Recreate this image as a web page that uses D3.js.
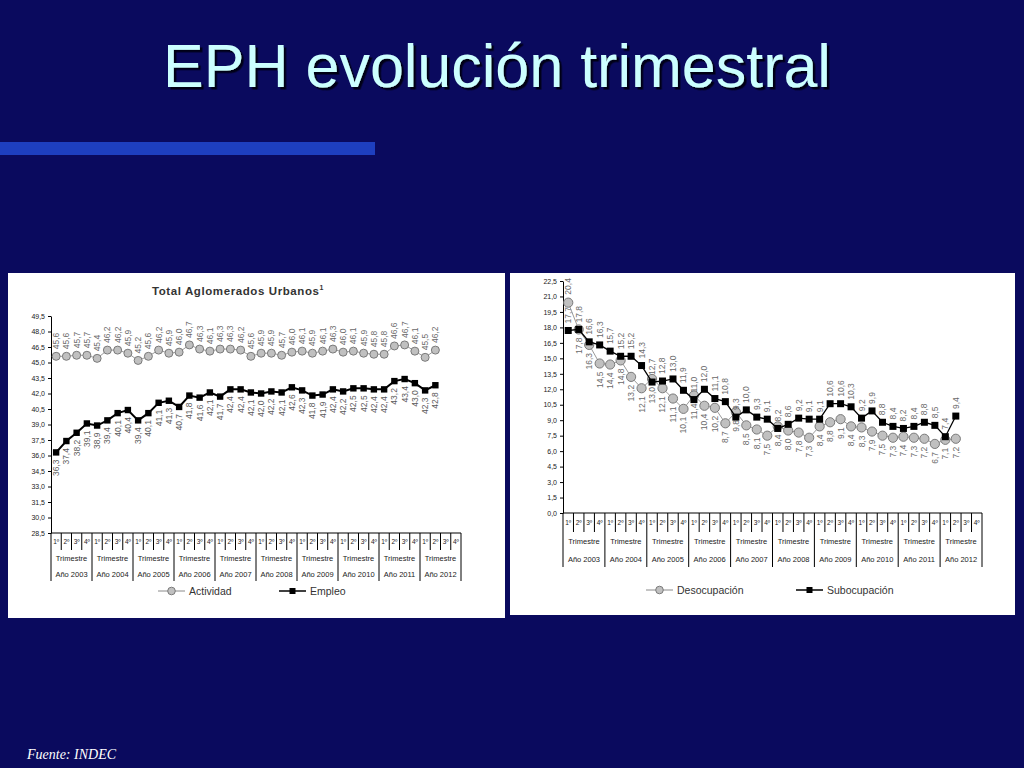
<!DOCTYPE html>
<html>
<head>
<meta charset="utf-8">
<script src="https://cdnjs.cloudflare.com/ajax/libs/d3/7.8.5/d3.min.js"></script>
<style>
    body { margin: 0; background: #0a0a5e; }
    svg { display: block; }
</style>
</head>
<body>
<svg id="slide" width="1024" height="768"></svg>
<script>
var years = [2003, 2004, 2005, 2006, 2007, 2008, 2009, 2010, 2011, 2012];
var quarters = ["1º", "2º", "3º", "4º"];

// Total Aglomerados Urbanos, 2003 T1 - 2012 T2
var actividad = [45.6, 45.6, 45.7, 45.7, 45.4, 46.2, 46.2, 45.9, 45.2, 45.6, 46.2, 45.9,
    46.0, 46.7, 46.3, 46.1, 46.3, 46.3, 46.2, 45.6, 45.9, 45.9, 45.7, 46.0,
    46.1, 45.9, 46.1, 46.3, 46.0, 46.1, 45.9, 45.8, 45.8, 46.6, 46.7, 46.1, 45.5, 46.2];
var empleo = [36.3, 37.4, 38.2, 39.1, 38.9, 39.4, 40.1, 40.4, 39.4, 40.1, 41.1, 41.3,
    40.7, 41.8, 41.6, 42.1, 41.7, 42.4, 42.4, 42.1, 42.0, 42.2, 42.1, 42.6,
    42.3, 41.8, 41.9, 42.4, 42.2, 42.5, 42.5, 42.4, 42.4, 43.2, 43.4, 43.0, 42.3, 42.8];
var desocupacion = [20.4, 17.8, 16.3, 14.5, 14.4, 14.8, 13.2, 12.1, 13.0, 12.1, 11.1, 10.1,
    11.4, 10.4, 10.2, 8.7, 9.8, 8.5, 8.1, 7.5, 8.4, 8.0, 7.8, 7.3,
    8.4, 8.8, 9.1, 8.4, 8.3, 7.9, 7.5, 7.3, 7.4, 7.3, 7.2, 6.7, 7.1, 7.2];
var subocupacion = [17.7, 17.8, 16.6, 16.3, 15.7, 15.2, 15.2, 14.3, 12.7, 12.8, 13.0, 11.9,
    11.0, 12.0, 11.1, 10.8, 9.3, 10.0, 9.3, 9.1, 8.2, 8.6, 9.2, 9.1,
    9.1, 10.6, 10.6, 10.3, 9.2, 9.9, 8.8, 8.4, 8.2, 8.4, 8.8, 8.5, 7.4, 9.4];

var ticksLeft = [28.5, 30.0, 31.5, 33.0, 34.5, 36.0, 37.5, 39.0, 40.5, 42.0, 43.5, 45.0, 46.5, 48.0, 49.5];
var ticksRight = [0.0, 1.5, 3.0, 4.5, 6.0, 7.5, 9.0, 10.5, 12.0, 13.5, 15.0, 16.5, 18.0, 19.5, 21.0, 22.5];

var periods = [];
years.forEach(function (yr) {
    quarters.forEach(function (q, i) { periods.push(yr + "-" + (i + 1)); });
});

var fmt = function (v) { return d3.format(".1f")(v).replace(".", ","); };
var FONT = "Arial, 'Liberation Sans', sans-serif";

var svg = d3.select("#slide");

svg.append("rect").attr("width", 1024).attr("height", 768).attr("fill", "#0a0a5e");

// title shadow as a filter, not a second text
svg.append("defs").append("filter")
    .attr("id", "shadow")
    .append("feDropShadow")
    .attr("dx", 2.5).attr("dy", 2.5).attr("stdDeviation", 0.6)
    .attr("flood-color", "#000018").attr("flood-opacity", 1);

svg.append("text")
    .attr("x", 497).attr("y", 87)
    .attr("text-anchor", "middle")
    .attr("filter", "url(#shadow)")
    .style("font-family", FONT).style("font-size", "61px")
    .attr("fill", "#ccffff")
    .text("EPH evolución trimestral");

svg.append("rect")
    .attr("x", 0).attr("y", 142).attr("width", 375).attr("height", 13)
    .attr("fill", "#1e3fbf");

svg.append("text")
    .attr("x", 27).attr("y", 759)
    .style("font-family", "'Liberation Serif', 'Times New Roman', serif")
    .style("font-style", "italic").style("font-size", "14px")
    .attr("fill", "#ffffff")
    .text("Fuente: INDEC");

// one panel: frame, y axis, period table
function panel(cfg) {
    var g = svg.append("g");

    g.append("rect")
        .attr("x", cfg.box[0]).attr("y", cfg.box[1])
        .attr("width", cfg.box[2]).attr("height", cfg.box[3])
        .attr("fill", "#ffffff");

    var x = d3.scaleBand().domain(periods).range([cfg.x0, cfg.x1]);
    var y = d3.scaleLinear().domain(cfg.domain).range([cfg.y0, cfg.yTop]);

    var ax = g.append("g")
        .attr("transform", "translate(" + cfg.x0 + ",0)")
        .call(d3.axisLeft(y).tickValues(cfg.ticks).tickFormat(fmt).tickSize(3).tickSizeOuter(0));
    ax.selectAll("text").style("font-family", FONT).style("font-size", "7px").attr("fill", "#222");
    ax.selectAll("line, path").attr("stroke", "#000");

    g.append("line")
        .attr("x1", cfg.x0).attr("x2", cfg.x1)
        .attr("y1", cfg.y0).attr("y2", cfg.y0)
        .attr("stroke", "#000").attr("stroke-width", 1.2);

    var bw = x.bandwidth();
    years.forEach(function (yr) {
        var xs = x(yr + "-1");
        g.append("line")
            .attr("x1", xs).attr("x2", xs)
            .attr("y1", cfg.y0).attr("y2", cfg.rows[3])
            .attr("stroke", "#000");
        quarters.forEach(function (q, i) {
            var xq = x(yr + "-" + (i + 1));
            if (i > 0) {
                g.append("line")
                    .attr("x1", xq).attr("x2", xq)
                    .attr("y1", cfg.y0).attr("y2", cfg.rows[0])
                    .attr("stroke", "#000");
            }
            g.append("text")
                .attr("x", xq + bw / 2).attr("y", (cfg.y0 + cfg.rows[0]) / 2 + 2.5)
                .attr("text-anchor", "middle")
                .style("font-family", FONT).style("font-size", "6.5px")
                .attr("fill", "#222")
                .text(q);
        });
        g.append("text")
            .attr("x", xs + bw * 2).attr("y", cfg.rows[1])
            .attr("text-anchor", "middle")
            .style("font-family", FONT).style("font-size", "7.5px")
            .attr("fill", "#222")
            .text("Trimestre");
        g.append("text")
            .attr("x", xs + bw * 2).attr("y", cfg.rows[2])
            .attr("text-anchor", "middle")
            .style("font-family", FONT).style("font-size", "7.5px")
            .attr("fill", "#222")
            .text("Año " + yr);
    });
    g.append("line")
        .attr("x1", cfg.x1).attr("x2", cfg.x1)
        .attr("y1", cfg.y0).attr("y2", cfg.rows[3])
        .attr("stroke", "#000");

    return { g: g, x: x, y: y };
}

function series(p, data, opt) {
    var bw = p.x.bandwidth();
    var px = function (d, i) { return p.x(periods[i]) + bw / 2; };
    var line = d3.line().x(px).y(function (d) { return p.y(d); });

    p.g.append("path")
        .datum(data)
        .attr("d", line)
        .attr("fill", "none")
        .attr("stroke", opt.lineColor)
        .attr("stroke-width", opt.lineWidth);

    var marks = p.g.selectAll(null).data(data).enter();
    if (opt.shape === "circle") {
        marks.append("circle")
            .attr("cx", px).attr("cy", function (d) { return p.y(d); })
            .attr("r", opt.size)
            .attr("fill", "#c0c0c0").attr("stroke", "#7a7a7a").attr("stroke-width", 1);
    } else {
        marks.append("rect")
            .attr("x", function (d, i) { return px(d, i) - opt.size; })
            .attr("y", function (d) { return p.y(d) - opt.size; })
            .attr("width", opt.size * 2).attr("height", opt.size * 2)
            .attr("fill", "#000");
    }

    marks.append("text")
        .attr("transform", function (d, i) {
            return "translate(" + px(d, i) + "," + p.y(d) + ") rotate(-90)";
        })
        .attr("x", function (d, i) { return opt.above(i) ? opt.gap : -opt.gap; })
        .attr("dy", "0.35em")
        .attr("text-anchor", function (d, i) { return opt.above(i) ? "start" : "end"; })
        .style("font-family", FONT).style("font-size", "8.5px")
        .attr("fill", opt.labelColor)
        .text(fmt);
}

function legendItem(g, x, y, label, shape) {
    g.append("line")
        .attr("x1", x).attr("x2", x + 27).attr("y1", y).attr("y2", y)
        .attr("stroke", shape === "circle" ? "#8a8a8a" : "#000")
        .attr("stroke-width", shape === "circle" ? 1 : 1.5);
    if (shape === "circle") {
        g.append("circle").attr("cx", x + 13.5).attr("cy", y).attr("r", 3.8)
            .attr("fill", "#c0c0c0").attr("stroke", "#7a7a7a");
    } else {
        g.append("rect").attr("x", x + 10.5).attr("y", y - 3).attr("width", 6).attr("height", 6)
            .attr("fill", "#000");
    }
    g.append("text")
        .attr("x", x + 31).attr("y", y + 3.5)
        .style("font-family", FONT).style("font-size", "10.5px")
        .attr("fill", "#333")
        .text(label);
}

// left chart: tasas de actividad y empleo
var left = panel({
    box: [8, 273, 497, 345],
    x0: 51, x1: 461, y0: 533, yTop: 316,
    domain: [28.5, 49.5], ticks: ticksLeft,
    rows: [550, 561, 577, 581]
});

var lt = left.g.append("text")
    .attr("x", 238).attr("y", 295)
    .attr("text-anchor", "middle")
    .style("font-family", FONT).style("font-size", "11.5px").style("font-weight", "bold")
    .style("letter-spacing", "0.6px")
    .attr("fill", "#333");
lt.append("tspan").text("Total Aglomerados Urbanos");
lt.append("tspan").attr("dy", -5).style("font-size", "7px").text("1");

series(left, actividad, {
    shape: "circle", size: 4, lineColor: "#9a9a9a", lineWidth: 1,
    labelColor: "#6a6a6a", gap: 7, above: function () { return true; }
});
series(left, empleo, {
    shape: "rect", size: 3.2, lineColor: "#000", lineWidth: 2,
    labelColor: "#5a5a5a", gap: 7, above: function () { return false; }
});

legendItem(left.g, 158, 591, "Actividad", "circle");
legendItem(left.g, 279, 591, "Empleo", "rect");

// right chart: desocupación y subocupación
var right = panel({
    box: [510, 273, 505, 342],
    x0: 563, x1: 982, y0: 513, yTop: 281,
    domain: [0, 22.5], ticks: ticksRight,
    rows: [532, 544, 562, 567]
});

series(right, desocupacion, {
    shape: "circle", size: 4.6, lineColor: "#9a9a9a", lineWidth: 1,
    labelColor: "#6a6a6a", gap: 8, above: function (i) { return i === 0; }
});
series(right, subocupacion, {
    shape: "rect", size: 3.5, lineColor: "#000", lineWidth: 1.3,
    labelColor: "#6a6a6a", gap: 7, above: function () { return true; }
});

legendItem(right.g, 646, 590, "Desocupación", "circle");
legendItem(right.g, 796, 590, "Subocupación", "rect");
</script>
</body>
</html>
